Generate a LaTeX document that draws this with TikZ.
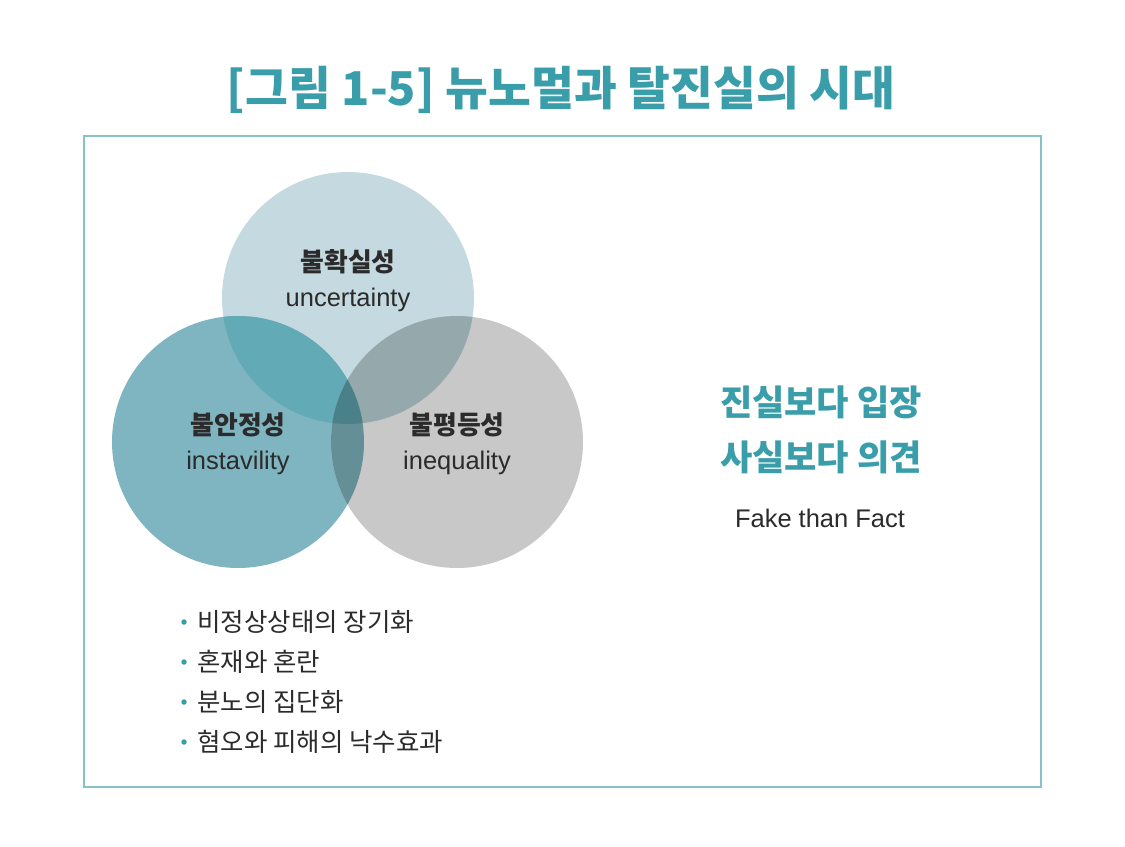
\documentclass[tikz,border=0pt]{standalone}
\usepackage{fontspec}
\setmainfont{Liberation Sans}
\newfontfamily\kr{Noto Sans CJK KR}
\usetikzlibrary{positioning}
\definecolor{teal1}{HTML}{3A9EAA}
\definecolor{frame1}{HTML}{86C2C9}
\definecolor{topc}{HTML}{C5DAE0}
\definecolor{leftc}{HTML}{7FB5C0}
\definecolor{rightc}{HTML}{C8C8C8}
\definecolor{tlc}{HTML}{62AAB6}
\definecolor{trc}{HTML}{95A8AC}
\definecolor{lrc}{HTML}{648F96}
\definecolor{allc}{HTML}{4A8088}
\definecolor{txt}{HTML}{2B2B2B}

\begin{document}
\begin{tikzpicture}[
  x=0.02cm, y=-0.02cm,
  title/.style={font=\kr\bfseries\fontsize{26.5}{30}\selectfont, text=teal1},
  kname/.style={font=\kr\bfseries\fontsize{14.7}{17}\selectfont, text=txt},
  ename/.style={font=\fontsize{14.5}{17}\selectfont, text=txt},
  slogan/.style={font=\kr\bfseries\fontsize{20}{24}\selectfont, text=teal1},
  item/.style={font=\kr\fontsize{14.5}{17}\selectfont, text=txt, anchor=west, inner sep=0pt},
  dot/.style={fill=teal1}
]
\fill[white] (0,0) rectangle (1125,846);
\useasboundingbox (0,0) rectangle (1125,846);

\node[title] (title) at (561,90) {[그림 1-5] 뉴노멀과 탈진실의 시대};
\draw[frame1, line width=0.7pt] (84,136) rectangle (1041,787);

% venn
\coordinate (ct) at (348,298);
\coordinate (cl) at (238,442);
\coordinate (cr) at (457,442);
\def\rad{2.52cm}
\fill[topc] (ct) circle (\rad);
\fill[leftc] (cl) circle (\rad);
\fill[rightc] (cr) circle (\rad);
\begin{scope}
  \clip (ct) circle (\rad);
  \fill[tlc] (cl) circle (\rad);
  \fill[trc] (cr) circle (\rad);
\end{scope}
\begin{scope}
  \clip (cl) circle (\rad);
  \fill[lrc] (cr) circle (\rad);
  \clip (cr) circle (\rad);
  \fill[allc] (ct) circle (\rad);
\end{scope}

\node[kname] (kt) at (348,262) {불확실성};
\node[ename] (et) at (348,300) {uncertainty};
\node[kname] (kl) at (238,425) {불안정성};
\node[ename] (el) at (238,463) {instavility};
\node[kname] (kr) at (457,425) {불평등성};
\node[ename] (er) at (457,463) {inequality};

% right side
\node[slogan] (s1) at (821,402) {진실보다 입장};
\node[slogan] (s2) at (821,457) {사실보다 의견};
\node[ename] (fake) at (820,518) {Fake than Fact};

% bullets
\foreach \t [count=\i] in {비정상상태의 장기화, 혼재와 혼란, 분노의 집단화, 혐오와 피해의 낙수효과} {
  \fill[dot] (184,582+40*\i) circle (0.055cm);
  \node[item] (b\i) at (197,582+40*\i) {\t};
}
\end{tikzpicture}
\end{document}
